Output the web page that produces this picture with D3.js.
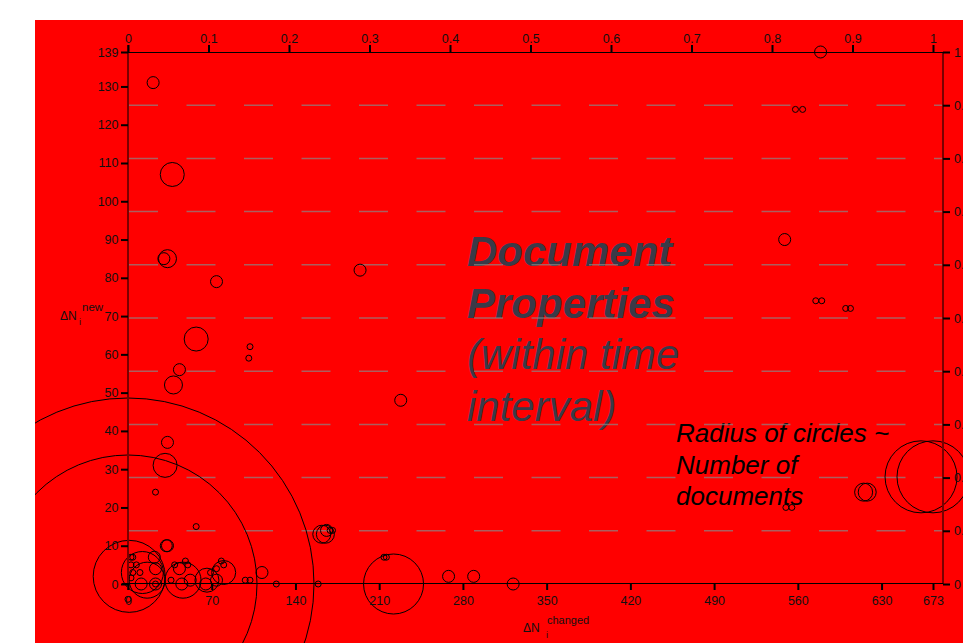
<!DOCTYPE html>
<html><head><meta charset="utf-8">
<script src="https://cdn.jsdelivr.net/npm/d3@7"></script>
<style>html,body{margin:0;padding:0;background:#fff;overflow:hidden}</style>
</head><body><svg id="c" width="963" height="643"></svg>
<script>
// ---- data ----
const changedVals = [21,579,558,564,37,549,30,33,74,194,575,580,600,604,57,102,101,43,38,228,33,31,23,57,33,32,
  0,0,1,12,16,23,22,23,2.5,2.5,7,4,10,2.5,0,23,11,4,
  46,52,45,43,39,48,50,36,
  66,80,65,74,74,78,80,69,
  112,98,102,124,159,162,165,166,169,171,214,216,222,268,289,322,
  663,673,618,615,550,555];
const newVals = [131,139,124,124,107,90,85,85,79,82,74,74,72,72,64,62,59,56,52,48,37,31,24,15,10,10,
  0,0,2,3,1,0,7,4,7,5,5,3,3,1.6,-4,0,0,7,
  1,1,0,4,5,6,5,1,
  1,3,0,1,4,6,5,3,
  3,1,1,0,0,13,13,14,14,14,7,7,0,2,2,0,
  28,28,24,24,20,20];
const docCounts = [2,2,1,1,4,2,2,3,2,2,1,1,1,1,4,1,1,2,3,2,2,4,1,1,2,2,
  62,43,12,7,6,2,2,2,1,1,1,1,1,1,1,1,2,1,
  6,2,2,2,1,1,1,1,
  4,4,2,2,1,1,1,1,
  2,1,1,1,1,3,3,2,1,1,1,1,10,2,2,2,
  12,12,3,3,1,1];
const bottomTicks = [0,70,140,210,280,350,420,490,560,630,673];
const leftTicks = [0,10,20,30,40,50,60,70,80,90,100,110,120,130,139];
const fracTicks = [0,0.1,0.2,0.3,0.4,0.5,0.6,0.7,0.8,0.9,1];
const gridVals = [0.1,0.2,0.3,0.4,0.5,0.6,0.7,0.8,0.9];
const titleLines = ["Document","Properties","(within time","interval)"];
const noteLines = ["Radius of circles ~","Number of","documents"];

const FONT = "'Liberation Sans', Arial, sans-serif";
const svg = d3.select("#c");
svg.append("rect").attr("x",35).attr("y",20).attr("width",928).attr("height",623).attr("fill","#ff0000");
svg.append("defs").append("clipPath").attr("id","bg").append("rect")
  .attr("x",35).attr("y",20).attr("width",928).attr("height",623);

const x = d3.scaleLinear().domain([0,673]).range([128,933]);
const y = d3.scaleLinear().domain([0,139]).range([584,52]);
const xf = d3.scaleLinear().domain([0,1]).range([128,933]);
const yf = d3.scaleLinear().domain([0,1]).range([584,52]);
const r = d3.scaleLinear().domain([0,1]).range([0,3]);

// title text
const t = svg.append("text").attr("x",467).attr("y",266)
  .attr("font-family",FONT).attr("font-size",42).attr("font-style","italic").attr("fill","#3a3a48");
titleLines.forEach((s,i)=>{
  t.append("tspan").attr("x",467).attr("dy", i===0?0:51.5)
   .attr("font-weight", i<2?"bold":"normal").text(s);
});
const n = svg.append("text").attr("x",676).attr("y",442)
  .attr("font-family",FONT).attr("font-size",26).attr("font-style","italic").attr("fill","#000");
noteLines.forEach((s,i)=>{
  n.append("tspan").attr("x",676).attr("dy", i===0?0:31.7).text(s);
});

// gridlines
svg.append("g").selectAll("line").data(gridVals).join("line")
  .attr("x1",128).attr("x2",943)
  .attr("y1",d=>yf(d)).attr("y2",d=>yf(d))
  .attr("stroke","#888").attr("stroke-opacity",0.7).attr("stroke-width",1.5)
  .attr("stroke-dasharray","29,28.5").attr("stroke-dashoffset",-1);

// circles
const pts = changedVals.map((c,i)=>({c, n:newVals[i], d:docCounts[i]}));
svg.append("g").attr("clip-path","url(#bg)").selectAll("circle").data(pts).join("circle")
  .attr("cx",d=>x(d.c)).attr("cy",d=>y(d.n)).attr("r",d=>r(d.d))
  .attr("fill","none").attr("stroke","#000").attr("stroke-width",1);

// frame lines
svg.append("line").attr("x1",128).attr("x2",128).attr("y1",45).attr("y2",590).attr("stroke","#7a0000").attr("stroke-width",2);
svg.append("line").attr("x1",943).attr("x2",943).attr("y1",52).attr("y2",584).attr("stroke","#7a0000").attr("stroke-width",2);
svg.append("line").attr("x1",122).attr("x2",943).attr("y1",52.5).attr("y2",52.5).attr("stroke","#000").attr("stroke-width",1);
svg.append("line").attr("x1",122).attr("x2",943).attr("y1",583.5).attr("y2",583.5).attr("stroke","#000").attr("stroke-width",1);

function style(g){
  g.select(".domain").remove();
  g.attr("font-family",FONT).attr("font-size",12.5);
  g.selectAll(".tick line").attr("stroke","#000").attr("stroke-width",2);
  g.selectAll(".tick text").attr("fill","#111");
}
svg.append("g").attr("transform","translate(128,0)")
  .call(d3.axisLeft(y).tickValues(leftTicks).tickSize(7).tickPadding(2.5).tickFormat(d3.format("d"))).call(style);
svg.append("g").attr("transform","translate(0,584)")
  .call(d3.axisBottom(x).tickValues(bottomTicks).tickSize(6).tickPadding(6).tickFormat(d3.format("d"))).call(style);
svg.append("g").attr("transform","translate(0,52)")
  .call(d3.axisTop(xf).tickValues(fracTicks).tickSize(7).tickPadding(2.5).tickFormat(d3.format("~g"))).call(style);
svg.append("g").attr("transform","translate(943,0)")
  .call(d3.axisRight(yf).tickValues(fracTicks).tickSize(7).tickPadding(4).tickFormat(d3.format("~g"))).call(style);

// axis titles
const yl = svg.append("text").attr("font-family",FONT).attr("fill","#111");
yl.append("tspan").attr("x",60).attr("y",320).attr("font-size",12).text("ΔN");
yl.append("tspan").attr("x",79).attr("y",324.5).attr("font-size",9).text("i");
yl.append("tspan").attr("x",82).attr("y",311).attr("font-size",11.5).text("new");
const xl = svg.append("text").attr("font-family",FONT).attr("fill","#111");
xl.append("tspan").attr("x",523).attr("y",631.5).attr("font-size",12).text("ΔN");
xl.append("tspan").attr("x",546).attr("y",637.5).attr("font-size",9).text("i");
xl.append("tspan").attr("x",547).attr("y",623.5).attr("font-size",11).text("changed");
</script></body></html>
